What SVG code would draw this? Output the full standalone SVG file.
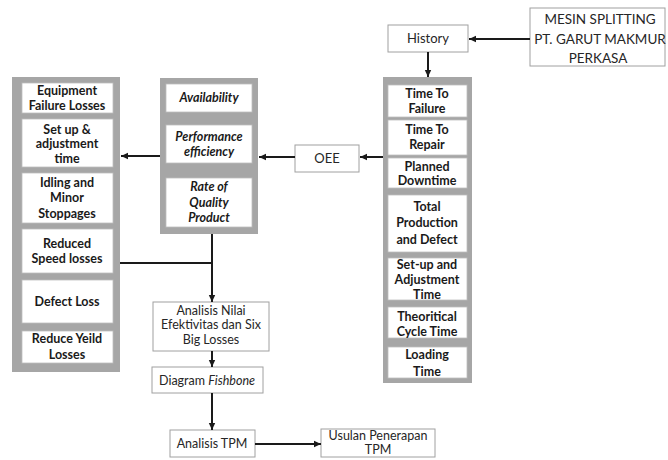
<svg xmlns="http://www.w3.org/2000/svg" width="668" height="460" viewBox="0 0 668 460">
<style>
.panel{fill:#a6a6a6;}
.ib{fill:#ffffff;stroke:#bdbdbd;stroke-width:0.8;}
.box{fill:#ffffff;stroke:#a0a0a0;stroke-width:1;}
.bt{font-family:Lato,"Liberation Sans",sans-serif;font-size:12.5px;font-weight:bold;fill:#1a1a1a;text-anchor:middle;}
.bi{font-family:Lato,"Liberation Sans",sans-serif;font-size:12.5px;font-weight:bold;font-style:italic;fill:#1a1a1a;text-anchor:middle;}
.rt{font-family:Lato,"Liberation Sans",sans-serif;font-size:12.5px;fill:#262626;text-anchor:middle;}
.ln{stroke:#1a1a1a;stroke-width:2;fill:none;}
.ar{marker-end:url(#ah);}
</style>
<defs>
<marker id="ah" markerUnits="userSpaceOnUse" markerWidth="8" markerHeight="8" refX="7" refY="4" orient="auto">
<path d="M0,0.8 L7,4 L0,7.2 Z" fill="#1a1a1a"/>
</marker>
</defs>
<rect width="668" height="460" fill="#ffffff"/>

<g id="mesin">
<rect class="box" x="530" y="8" width="135" height="58"/>
<text class="rt" style="font-size:13.5px" x="600" y="24">MESIN SPLITTING</text>
<text class="rt" style="font-size:13.5px" x="600" y="44">PT. GARUT MAKMUR</text>
<text class="rt" style="font-size:13.5px" x="598" y="63">PERKASA</text>
</g>

<g id="history">
<rect class="box" x="388" y="25" width="80" height="27"/>
<text class="rt" style="font-size:13px" x="428" y="43">History</text>
</g>

<g id="right-panel">
<rect class="panel" x="383" y="77" width="89" height="306"/>
<rect class="ib" x="388" y="85" width="79" height="32"/>
<text class="bt" x="427" y="98">Time To</text>
<text class="bt" x="427" y="113">Failure</text>
<rect class="ib" x="388" y="120" width="79" height="35"/>
<text class="bt" x="427" y="134">Time To</text>
<text class="bt" x="427" y="149">Repair</text>
<rect class="ib" x="388" y="158" width="79" height="30"/>
<text class="bt" x="427" y="171">Planned</text>
<text class="bt" x="427" y="185">Downtime</text>
<rect class="ib" x="388" y="195" width="79" height="57"/>
<text class="bt" x="427" y="211">Total</text>
<text class="bt" x="427" y="227">Production</text>
<text class="bt" x="427" y="244">and Defect</text>
<rect class="ib" x="388" y="258" width="79" height="42"/>
<text class="bt" x="427" y="269">Set-up and</text>
<text class="bt" x="427" y="284">Adjustment</text>
<text class="bt" x="427" y="299">Time</text>
<rect class="ib" x="388" y="307" width="79" height="31"/>
<text class="bt" x="427" y="321">Theoritical</text>
<text class="bt" x="427" y="336">Cycle Time</text>
<rect class="ib" x="388" y="347" width="79" height="31"/>
<text class="bt" x="427" y="359">Loading</text>
<text class="bt" x="427" y="376">Time</text>
</g>

<g id="oee">
<rect class="box" x="295" y="145" width="64" height="27"/>
<text class="rt" style="font-size:13px" x="327" y="163">OEE</text>
</g>

<g id="middle-panel">
<rect class="panel" x="160" y="78" width="98" height="156"/>
<rect class="ib" x="166" y="84" width="86" height="28"/>
<text class="bi" x="209" y="102">Availability</text>
<rect class="ib" x="166" y="125" width="86" height="38"/>
<text class="bi" x="209" y="141">Performance</text>
<text class="bi" x="209" y="156">efficiency</text>
<rect class="ib" x="166" y="178" width="86" height="49"/>
<text class="bi" x="209" y="191">Rate of</text>
<text class="bi" x="209" y="207">Quality</text>
<text class="bi" x="209" y="222">Product</text>
</g>

<g id="left-panel">
<rect class="panel" x="12" y="77" width="108" height="295"/>
<rect class="ib" x="22" y="83" width="91" height="30"/>
<text class="bt" x="67" y="95">Equipment</text>
<text class="bt" x="67" y="110">Failure Losses</text>
<rect class="ib" x="22" y="119" width="91" height="48"/>
<text class="bt" x="67" y="134">Set up &amp;</text>
<text class="bt" x="67" y="148">adjustment</text>
<text class="bt" x="67" y="163">time</text>
<rect class="ib" x="22" y="173" width="91" height="50"/>
<text class="bt" x="67" y="187">Idling and</text>
<text class="bt" x="67" y="202">Minor</text>
<text class="bt" x="67" y="218">Stoppages</text>
<rect class="ib" x="22" y="229" width="91" height="44"/>
<text class="bt" x="67" y="248">Reduced</text>
<text class="bt" x="67" y="263">Speed losses</text>
<rect class="ib" x="22" y="280" width="91" height="43"/>
<text class="bt" x="67" y="306">Defect Loss</text>
<rect class="ib" x="22" y="331" width="91" height="32"/>
<text class="bt" x="67" y="343">Reduce Yeild</text>
<text class="bt" x="67" y="359">Losses</text>
</g>

<g id="analisis-nilai">
<rect class="box" x="153" y="302" width="116" height="49"/>
<text class="rt" x="211" y="315">Analisis Nilai</text>
<text class="rt" x="211" y="329">Efektivitas dan Six</text>
<text class="rt" x="211" y="344">Big Losses</text>
</g>

<g id="fishbone">
<rect class="box" x="152" y="367" width="111" height="26"/>
<text class="rt" x="207" y="385">Diagram <tspan font-style="italic">Fishbone</tspan></text>
</g>

<g id="analisis-tpm">
<rect class="box" x="170" y="430" width="85" height="27"/>
<text class="rt" x="212" y="448">Analisis TPM</text>
</g>

<g id="usulan">
<rect class="box" x="321" y="429" width="114" height="28"/>
<text class="rt" x="378" y="440">Usulan Penerapan</text>
<text class="rt" x="378" y="454">TPM</text>
</g>

<g id="connectors">
<line class="ln ar" x1="530" y1="39" x2="469" y2="39"/>
<line class="ln ar" x1="428" y1="52" x2="428" y2="77"/>
<line class="ln ar" x1="383" y1="157" x2="360" y2="157"/>
<line class="ln ar" x1="295" y1="157" x2="259" y2="157"/>
<line class="ln ar" x1="160" y1="156" x2="121" y2="156"/>
<polyline class="ln" points="120,263 212,263"/>
<line class="ln ar" x1="212" y1="234" x2="212" y2="302"/>
<line class="ln ar" x1="212" y1="351" x2="212" y2="367"/>
<line class="ln ar" x1="212" y1="393" x2="212" y2="430"/>
<line class="ln ar" x1="255" y1="444" x2="321" y2="444"/>
</g>
</svg>
